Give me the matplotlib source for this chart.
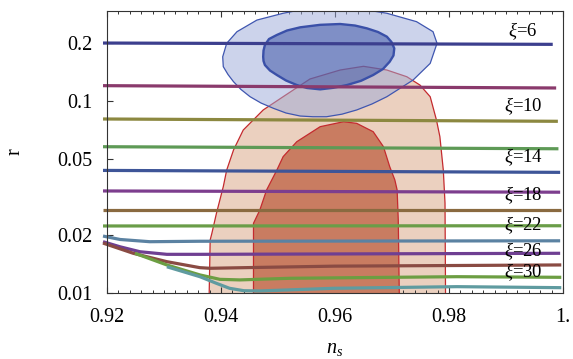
import numpy as np
import matplotlib
matplotlib.use("Agg")
import matplotlib.pyplot as plt
from matplotlib.ticker import NullLocator, FixedLocator

plt.rcParams['font.family'] = ['Liberation Serif', 'DejaVu Serif']
plt.rcParams['mathtext.fontset'] = 'custom'
plt.rcParams['mathtext.rm'] = 'Liberation Serif'
plt.rcParams['mathtext.it'] = 'Liberation Serif:italic'

# ---------------- data ----------------
xi_values = [6, 8, 10, 12, 14, 16, 18, 20, 22, 24, 26, 28, 30]
line_colors = ['#3c3f8e', '#8a3a6c', '#8c8840', '#5e9a56', '#3e5598', '#7d3e8e',
               '#8a6a40', '#6a9d48', '#5b82a2', '#6f3f92', '#8a4b43', '#6c9e42', '#5f9ba0']

# nearly flat lines (xi = 6 ... 20): r at left and right ends
flat_ns_start = 0.9193
flat_ns_end = [0.9982, 0.9988, 0.9991, 0.9992, 0.9995, 0.9995, 0.9996, 0.9997]
flat_r_left = [0.2004, 0.1202, 0.0806, 0.0578, 0.0435, 0.0340, 0.02705, 0.02234]
flat_r_right = [0.1973, 0.1169, 0.0784, 0.0564, 0.0425, 0.0335, 0.02705, 0.0224]

# bending lines (xi = 22 ... 30)
ns_xi22 = [0.9193, 0.9223, 0.9275, 0.9363, 0.9995]
r_xi22 = [0.0198, 0.0190, 0.0185, 0.0186, 0.0187]
ns_xi24 = [0.9193, 0.9223, 0.9258, 0.9305, 0.9363, 0.9995]
r_xi24 = [0.0185, 0.0174, 0.0164, 0.0159, 0.0159, 0.0161]
ns_xi26 = [0.9193, 0.9246, 0.9305, 0.9363, 0.9381, 0.947, 0.96, 0.9997]
r_xi26 = [0.0182, 0.0161, 0.01456, 0.01355, 0.01345, 0.0136, 0.0138, 0.0140]
ns_xi28 = [0.9249, 0.9305, 0.9363, 0.9398, 0.9433, 0.9521, 0.9814, 0.9997]
r_xi28 = [0.0161, 0.0140, 0.01242, 0.01178, 0.0117, 0.01193, 0.01216, 0.01207]
ns_xi30 = [0.9305, 0.9363, 0.9392, 0.9415, 0.944, 0.9468, 0.9597, 0.9814, 0.9997]
r_xi30 = [0.0137, 0.01216, 0.01123, 0.01058, 0.01028, 0.01025, 0.01058, 0.01079, 0.01066]

# Planck contours (95% outer, 68% inner)
planck95_ns = [0.9379, 0.9381, 0.9384, 0.9392, 0.9404, 0.9410, 0.9422, 0.9439, 0.9474,
               0.9509, 0.9556, 0.9609, 0.9650, 0.9691, 0.9726, 0.9749, 0.9767, 0.9778,
               0.9784, 0.9790, 0.9793, 0.9794]
planck95_r = [0.009, 0.01888, 0.02047, 0.0260, 0.0358, 0.0437, 0.0556, 0.0706, 0.0898,
              0.1053, 0.1302, 0.1450, 0.1516, 0.1450, 0.1338, 0.1211, 0.1053, 0.0796,
              0.0652, 0.0437, 0.0294, 0.009]
planck68_ns = [0.9457, 0.9457, 0.9468, 0.9480, 0.9498, 0.9509, 0.9533, 0.9574, 0.9615,
               0.9638, 0.9667, 0.9685, 0.9696, 0.9705, 0.9709, 0.9711, 0.9713]
planck68_r = [0.009, 0.02307, 0.0270, 0.0344, 0.0437, 0.0513, 0.0614, 0.0735, 0.0780,
              0.0765, 0.0692, 0.0578, 0.0455, 0.0388, 0.0344, 0.0240, 0.009]

# BICEP2 contours
bicep95_ns = [0.9404, 0.9403, 0.9410, 0.9428, 0.9463, 0.9509, 0.9556, 0.9620, 0.9691,
              0.9743, 0.9772, 0.9779, 0.9767, 0.9737, 0.9691, 0.96649, 0.9638, 0.96123,
              0.9585, 0.95614, 0.9539, 0.9514, 0.9492, 0.94702, 0.9451, 0.94351,
              0.9422, 0.94123]
bicep95_r = [0.151, 0.170, 0.1998, 0.2296, 0.264, 0.2864, 0.305, 0.31, 0.2864,
             0.259, 0.2296, 0.1998, 0.157, 0.1286, 0.1053, 0.0965, 0.0898, 0.0854,
             0.0828, 0.0828, 0.0835, 0.0866, 0.0916, 0.0976, 0.1053, 0.1148,
             0.126, 0.1374]
bicep68_ns = [0.9474, 0.94746, 0.9477, 0.94842, 0.9498, 0.95158, 0.9539, 0.95737,
              0.9609, 0.96351, 0.9656, 0.96754, 0.9691, 0.96991, 0.9704, 0.97026,
              0.9696, 0.96842, 0.9667, 0.96456, 0.9621, 0.95965, 0.9574, 0.95509,
              0.9533, 0.9514, 0.9498, 0.9486, 0.9477, 0.94746]
bicep68_r = [0.170, 0.1832, 0.1957, 0.2103, 0.2208, 0.2329, 0.242, 0.2493,
             0.2518, 0.2472, 0.239, 0.2288, 0.2163, 0.2029, 0.188, 0.1726,
             0.1603, 0.1468, 0.1366, 0.1274, 0.1211, 0.1171, 0.115, 0.1169,
             0.1211, 0.1279, 0.1366, 0.1441, 0.154, 0.1616]

# labels
label_xi = [6, 10, 14, 18, 22, 26, 30]
label_ns = 0.993
label_r = [0.2315, 0.0942, 0.0511, 0.0324, 0.0226, 0.01655, 0.01286]

x_ticks = [0.92, 0.94, 0.96, 0.98, 1.0]
x_ticklabels = ['0.92', '0.94', '0.96', '0.98', '1.']
y_ticks = [0.01, 0.02, 0.05, 0.1, 0.2]
y_ticklabels = ['0.01', '0.02', '0.05', '0.1', '0.2']

# ---------------- figure ----------------
W, H = 573, 359
fig = plt.figure(figsize=(W / 100, H / 100), dpi=100)
ax = fig.add_axes([107 / W, 66 / H, 456 / W, 282 / H])
ax.set_yscale('log')
ax.set_xlim(0.92, 1.0)
ax.set_ylim(0.01, 0.2943)

edge_red = '#c42a2e'
ax.fill(planck95_ns, planck95_r, facecolor='#ebd0bf', edgecolor=edge_red, lw=0.9, zorder=1)
ax.fill(planck68_ns, planck68_r, facecolor='#c97c61', edgecolor=edge_red, lw=0.9, zorder=2)
ax.fill(bicep95_ns, bicep95_r, facecolor=(0.608, 0.663, 0.851, 0.5), edgecolor='#3f56b0',
        lw=0.9, zorder=3, joinstyle='round')
ax.fill(bicep68_ns, bicep68_r, facecolor=(0.20, 0.30, 0.64, 0.5), edgecolor='#3a50a8',
        lw=1.7, zorder=4, joinstyle='round')

lw = 2.3
for i in range(8):
    ax.plot([flat_ns_start, flat_ns_end[i]], [flat_r_left[i], flat_r_right[i]],
            color=line_colors[i], lw=lw, solid_capstyle='butt', zorder=5, clip_on=False)

bend_ns = [ns_xi22, ns_xi24, ns_xi26, ns_xi28, ns_xi30]
bend_r = [r_xi22, r_xi24, r_xi26, r_xi28, r_xi30]
for k in range(5):
    ax.plot(bend_ns[k], bend_r[k], color=line_colors[8 + k], lw=lw,
            solid_capstyle='butt', solid_joinstyle='round', zorder=5, clip_on=False)

for xi, rr in zip(label_xi, label_r):
    ax.text(label_ns, rr, r'$\xi$=%d' % xi, fontsize=13.5, ha='center', va='center',
            zorder=6)

ax.set_xticks(x_ticks)
ax.set_xticklabels(x_ticklabels)
ax.xaxis.set_minor_locator(FixedLocator([0.92 + 0.002 * k for k in range(41) if k % 10 != 0]))
ax.yaxis.set_major_locator(FixedLocator(y_ticks))
ax.set_yticklabels(y_ticklabels)
ax.yaxis.set_minor_locator(NullLocator())

frame_c = '#333333'
for s in ax.spines.values():
    s.set_color(frame_c)
    s.set_linewidth(0.8)
    s.set_zorder(10)
ax.tick_params(axis='both', which='both', direction='in', colors=frame_c,
               labelcolor='black', labelsize=14.5, pad=10.5)
ax.tick_params(axis='x', which='both', top=True, bottom=True)
ax.tick_params(axis='y', which='both', left=True, right=False)
ax.tick_params(which='major', length=4.3, width=0.8)
ax.tick_params(which='minor', length=2.2, width=0.7)

fig.text(15 / W, 1 - 152 / H, 'r', fontsize=14.5, rotation=90, ha='center', va='center')
fig.text(335 / W, 1 - 348 / H, r'$n_s$', fontsize=14.5, ha='center', va='center')

fig.savefig('out.png', dpi=100)
